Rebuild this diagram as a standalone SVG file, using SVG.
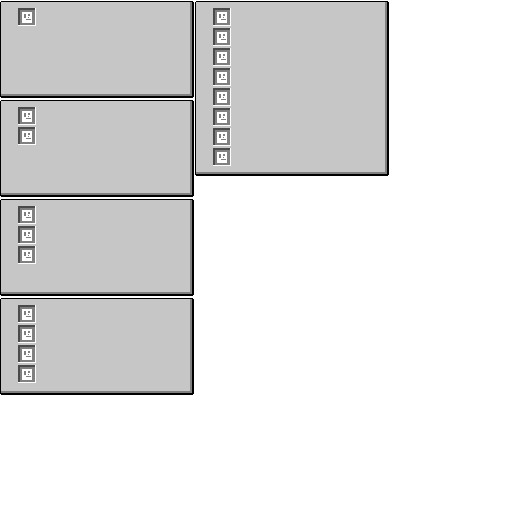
<svg xmlns="http://www.w3.org/2000/svg" width="512" height="512" viewBox="0 0 512 512" shape-rendering="crispEdges">
<style>.c{fill:#c6c6c6}.k{fill:#000}.w{fill:#fff}.d{fill:#4a4a4a}.g{fill:#808080}</style>
<defs>
<g id="icon">
<rect class="w" width="18" height="18"/>
<rect class="d" width="17" height="17"/>
<rect class="g" x="2" y="2" width="15" height="15"/>
<path class="w" d="M4 4h10v11H4z"/>
<path class="g" d="M6 6h2v4H6zM10 6h2v2h-2zM10 9h1v1h-1zM8 11h5v1H8z"/>
</g>
</defs>
<rect width="512" height="512" fill="#fff"/>
<g id="panel-1"><rect class="k" x="1" y="1" width="192" height="97"/><rect class="k" y="2" width="194" height="95"/><rect class="g" x="1" y="2" width="191" height="94"/><rect class="c" x="1" y="2" width="189" height="92"/><use href="#icon" x="18" y="8"/></g>
<g id="panel-2"><rect class="k" x="1" y="100" width="192" height="97"/><rect class="k" y="101" width="194" height="95"/><rect class="g" x="1" y="101" width="191" height="94"/><rect class="c" x="1" y="101" width="189" height="92"/><use href="#icon" x="18" y="107"/><use href="#icon" x="18" y="127"/></g>
<g id="panel-3"><rect class="k" x="1" y="199" width="192" height="97"/><rect class="k" y="200" width="194" height="95"/><rect class="g" x="1" y="200" width="191" height="94"/><rect class="c" x="1" y="200" width="189" height="92"/><use href="#icon" x="18" y="206"/><use href="#icon" x="18" y="226"/><use href="#icon" x="18" y="246"/></g>
<g id="panel-4"><rect class="k" x="1" y="298" width="192" height="97"/><rect class="k" y="299" width="194" height="95"/><rect class="g" x="1" y="299" width="191" height="94"/><rect class="c" x="1" y="299" width="189" height="92"/><use href="#icon" x="18" y="305"/><use href="#icon" x="18" y="325"/><use href="#icon" x="18" y="345"/><use href="#icon" x="18" y="365"/></g>
<g id="panel-5"><rect class="k" x="196" y="1" width="192" height="175"/><rect class="k" x="195" y="2" width="194" height="173"/><rect class="g" x="196" y="2" width="191" height="172"/><rect class="c" x="196" y="2" width="189" height="170"/><use href="#icon" x="213" y="8"/><use href="#icon" x="213" y="28"/><use href="#icon" x="213" y="48"/><use href="#icon" x="213" y="68"/><use href="#icon" x="213" y="88"/><use href="#icon" x="213" y="108"/><use href="#icon" x="213" y="128"/><use href="#icon" x="213" y="148"/></g>
</svg>
